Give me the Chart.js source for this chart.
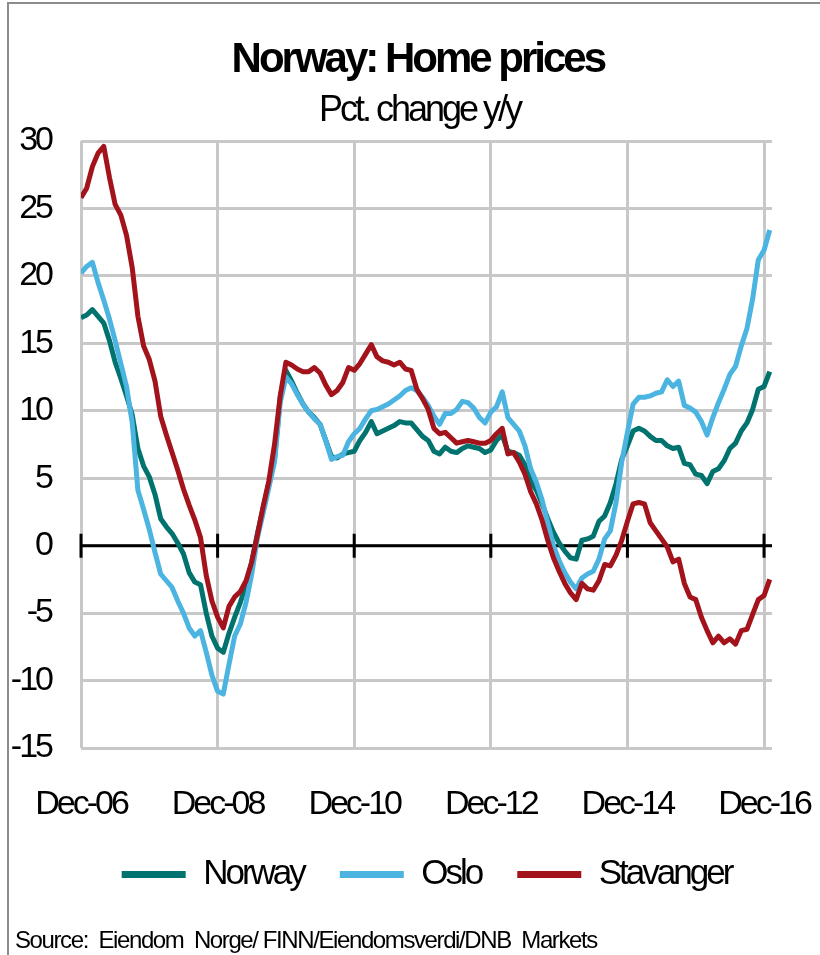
<!DOCTYPE html>
<html>
<head>
<meta charset="utf-8">
<script src="https://cdn.jsdelivr.net/npm/chart.js@4.4.1/dist/chart.umd.min.js"></script>
<style>
body{margin:0;background:#fff;}
#wrap{position:relative;width:820px;height:955px;}
#frame{position:absolute;left:7px;top:2px;right:0;bottom:0;border-left:2px solid #8c8c8c;border-top:2px solid #8c8c8c;pointer-events:none;}
#source{position:absolute;left:15px;top:926px;font-size:24px;letter-spacing:-1.4px;font-family:'Liberation Sans Narrow','Arial Narrow','Liberation Sans',sans-serif;white-space:pre;color:#000;}
</style>
</head>
<body>
<div id="wrap">
<canvas id="homeChart"></canvas>
<div id="frame"></div>
<div id="source">Source:  Eiendom  Norge/ FINN/Eiendomsverdi/DNB  Markets</div>
</div>
<script>
// monthly, Dec-06 .. Jan-17, pct change y/y
const tickLabels=['Dec-06','Dec-08','Dec-10','Dec-12','Dec-14','Dec-16'];
const seriesNames=['Norway','Oslo','Stavanger'];
const colors=['#00736F','#4BB4E0','#A3131B'];

const norway=[16.9,17.1,17.5,17.0,16.5,15.2,13.6,12.4,11.1,9.7,
7.2,5.9,5.1,3.8,2.0,1.4,0.9,0.2,-0.6,-2.0,
-2.7,-2.9,-5.0,-6.7,-7.6,-7.9,-6.5,-5.3,-4.2,-2.9,
-1.2,0.9,2.8,4.6,6.4,11.0,13.0,12.2,11.3,10.5,
9.9,9.5,9.0,7.8,6.6,6.5,6.8,6.9,7.0,7.8,
8.4,9.2,8.3,8.5,8.7,8.9,9.2,9.1,9.1,8.6,
8.1,7.8,7.0,6.8,7.3,7.0,6.9,7.2,7.4,7.3,
7.2,6.9,7.1,7.8,8.2,7.0,6.9,6.7,6.0,4.8,
4.1,3.1,2.0,1.0,0.2,-0.4,-0.9,-1.0,0.4,0.5,
0.7,1.8,2.2,3.2,4.6,6.4,7.4,8.5,8.7,8.5,
8.1,7.8,7.8,7.4,7.2,7.3,6.1,6.0,5.3,5.2,
4.6,5.5,5.7,6.3,7.2,7.6,8.5,9.1,10.1,11.6,
11.8,12.9];

const oslo=[20.2,20.7,21.0,19.5,18.2,16.8,15.2,13.5,11.8,9.1,
4.1,2.7,1.2,-0.5,-2.1,-2.6,-3.1,-4.1,-5.0,-6.1,
-6.7,-6.3,-7.9,-9.6,-10.8,-11.0,-8.8,-6.7,-5.8,-4.2,
-2.1,0.6,2.4,4.3,6.2,10.6,12.5,12.0,11.2,10.5,
9.9,9.4,9.0,7.8,6.4,6.6,6.7,7.7,8.3,8.7,
9.4,10.0,10.1,10.3,10.5,10.8,11.1,11.5,11.7,11.5,
11.0,10.4,9.6,9.0,9.8,9.8,10.1,10.7,10.6,10.2,
9.5,9.1,9.9,10.3,11.4,9.5,9.0,8.5,7.4,5.7,
4.7,3.4,1.7,0.0,-1.1,-2.0,-2.7,-3.2,-2.4,-2.1,
-1.9,-1.0,0.5,1.1,3.2,6.2,8.4,10.5,11.0,11.0,
11.1,11.3,11.4,12.3,11.8,12.2,10.4,10.2,9.9,9.2,
8.2,9.5,10.6,11.6,12.7,13.3,14.8,16.1,18.3,21.2,
21.9,23.4];

const stavanger=[25.8,26.5,28.1,29.1,29.6,27.3,25.3,24.5,23.0,20.6,
17.0,14.8,13.8,12.2,9.6,8.2,6.9,5.6,4.2,3.0,
1.9,0.6,-2.2,-4.1,-5.3,-6.1,-4.5,-3.8,-3.4,-2.6,
-1.2,0.8,2.9,4.8,7.5,11.1,13.6,13.4,13.1,12.9,
12.9,13.2,12.8,11.9,11.2,11.5,12.1,13.2,13.0,13.5,
14.2,14.9,14.0,13.7,13.6,13.4,13.6,13.1,13.0,11.6,
10.9,10.1,8.7,8.3,8.4,8.0,7.6,7.7,7.8,7.7,
7.6,7.6,7.8,8.3,8.7,6.8,6.9,6.2,5.3,4.0,
3.1,1.9,0.4,-0.9,-1.9,-2.8,-3.5,-4.0,-2.8,-3.2,
-3.3,-2.6,-1.4,-1.5,-0.7,0.4,1.8,3.1,3.2,3.1,
1.7,1.1,0.5,-0.1,-1.2,-1.0,-2.8,-3.8,-4.0,-5.3,
-6.3,-7.2,-6.7,-7.2,-6.9,-7.3,-6.3,-6.2,-5.1,-4.0,
-3.7,-2.5];

const FONT="'Liberation Sans Narrow','Arial Narrow','Liberation Sans',sans-serif";

function toPoints(values){
  return values.map((v,i)=>({x:i,y:v}));
}

// no narrow font installed -> tighten the letters instead
const tightText={
  id:'tightText',
  beforeUpdate(chart){chart.ctx.letterSpacing='-3px';},
  beforeLayout(chart){chart.ctx.letterSpacing='-3px';},
  beforeDraw(chart){chart.ctx.letterSpacing='-3px';}
};

// black zero line with tick marks at each label
const zeroLine={
  id:'zeroLine',
  beforeDatasetsDraw(chart){
    const {ctx,chartArea,scales}=chart;
    const y0=scales.y.getPixelForValue(0);
    ctx.save();
    ctx.strokeStyle='#000';
    ctx.lineWidth=3;
    ctx.beginPath();
    ctx.moveTo(chartArea.left,y0);
    ctx.lineTo(chartArea.right,y0);
    scales.x.ticks.forEach(t=>{
      const px=scales.x.getPixelForValue(t.value);
      ctx.moveTo(px,y0-12);
      ctx.lineTo(px,y0+12);
    });
    ctx.stroke();
    ctx.restore();
  }
};

const ctx=document.getElementById('homeChart').getContext('2d');

new Chart(ctx,{
  type:'line',
  data:{
    datasets:[norway,oslo,stavanger].map((vals,i)=>({
      label:seriesNames[i],
      data:toPoints(vals),
      borderColor:colors[i],
      backgroundColor:colors[i],
      borderWidth:5,
      pointRadius:0,
      borderJoinStyle:'round',
      tension:0,
      order:3-i
    }))
  },
  options:{
    responsive:true,
    maintainAspectRatio:false,
    animation:false,
    layout:{padding:{left:0,right:48,top:0,bottom:53}},
    scales:{
      x:{
        type:'linear',min:0,max:121.4,
        grid:{color:'#c8c8c8',lineWidth:3,tickLength:36,tickColor:'rgba(0,0,0,0)'},
        border:{display:false},
        ticks:{
          stepSize:24,includeBounds:false,autoSkip:false,maxRotation:0,
          color:'#000',font:{family:FONT,size:34},padding:0,
          callback:v=>tickLabels[v/24]||''
        },
        afterFit(s){s.height=73;}
      },
      y:{
        min:-15,max:30,
        grid:{color:'#c8c8c8',lineWidth:3,drawTicks:false},
        border:{display:false},
        ticks:{stepSize:5,color:'#000',font:{family:FONT,size:34},padding:30},
        afterFit(s){s.width=81;}
      }
    },
    plugins:{
      // trailing spaces nudge the centred text a little to the left
      title:{
        display:true,text:'Norway: Home prices  ',color:'#000',fullSize:false,
        font:{family:FONT,size:42,weight:'bold',lineHeight:1},
        padding:{top:39,bottom:0}
      },
      subtitle:{
        display:true,text:'Pct. change y/y  ',color:'#000',fullSize:false,
        font:{family:FONT,size:36,lineHeight:1},
        padding:{top:12,bottom:12}
      },
      legend:{
        position:'bottom',fullSize:false,
        labels:{
          color:'#000',font:{family:FONT,size:35},
          boxWidth:64,boxHeight:7,padding:36,
          sort:(a,b)=>a.datasetIndex-b.datasetIndex,
          generateLabels(chart){
            return Chart.defaults.plugins.legend.labels.generateLabels(chart).map(l=>{
              l.fillStyle=colors[l.datasetIndex];
              l.lineWidth=0;
              return l;
            });
          }
        }
      },
      tooltip:{enabled:false}
    }
  },
  plugins:[tightText,zeroLine]
});
</script>
</body>
</html>
